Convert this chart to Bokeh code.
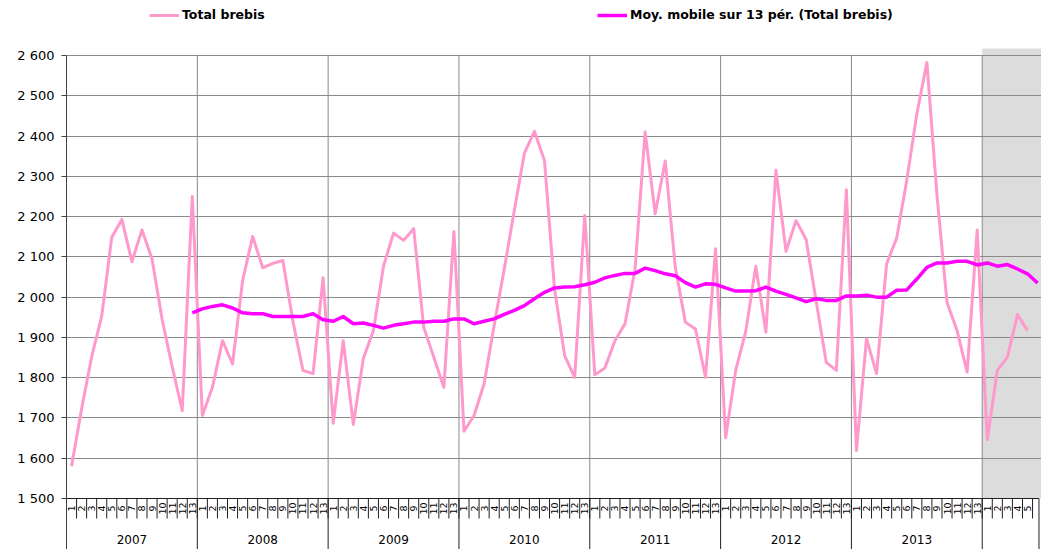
import math
import numpy as np
from bokeh.plotting import figure
from bokeh.models import Range1d, FixedTicker, Legend, LegendItem
from bokeh.core.properties import value
from bokeh.embed import file_html
from bokeh.resources import INLINE

# ---------------- data ----------------
years = ["2007", "2008", "2009", "2010", "2011", "2012", "2013", "2014"]
periods_per_year = [13, 13, 13, 13, 13, 13, 13, 6]
year_labels = ["2007", "2008", "2009", "2010", "2011", "2012", "2013", ""]
forecast_year = "2014"

total_brebis = [
    1580, 1722, 1852, 1953, 2149, 2193, 2088, 2167, 2095, 1945, 1828, 1718, 2250,
    1706, 1776, 1892, 1834, 2041, 2151, 2073, 2084, 2091, 1940, 1818, 1810, 2048,
    1687, 1892, 1684, 1848, 1917, 2077, 2159, 2141, 2170, 1925, 1851, 1776, 2163,
    1667, 1706, 1785, 1930, 2070, 2215, 2357, 2412, 2339, 2020, 1855, 1801, 2203,
    1807, 1824, 1892, 1934, 2070, 2410, 2207, 2338, 2074, 1938, 1921, 1801, 2120,
    1651, 1818, 1915, 2077, 1913, 2315, 2114, 2190, 2143, 1990, 1838, 1818, 2267,
    1619, 1897, 1810, 2083, 2147, 2290, 2455, 2583, 2254, 1987, 1917, 1814, 2167,
    1646, 1818, 1851, 1957, 1917,
]

# 13-period moving average, first value at 2007 period 13
moy_mobile_start = 12
moy_mobile = [
    1961,
    1971, 1977, 1981, 1973, 1961, 1959, 1959, 1952, 1952, 1952, 1952, 1959, 1944,
    1940, 1952, 1934, 1936, 1930, 1923, 1930, 1934, 1938, 1938, 1940, 1940, 1946,
    1946, 1934, 1940, 1946, 1957, 1967, 1979, 1996, 2012, 2023, 2025, 2026, 2031,
    2037, 2048, 2054, 2059, 2059, 2072, 2066, 2058, 2053, 2036, 2025, 2033, 2032,
    2023, 2015, 2015, 2016, 2025, 2015, 2007, 1998, 1989, 1996, 1992, 1992, 2003,
    2003, 2005, 2000, 2000, 2017, 2018, 2045, 2074, 2085, 2085, 2089, 2089, 2080,
    2085, 2077, 2081, 2070, 2058, 2035,
]

y_ticks = [1500, 1600, 1700, 1800, 1900, 2000, 2100, 2200, 2300, 2400, 2500, 2600]
y_tick_labels = ["1 500", "1 600", "1 700", "1 800", "1 900", "2 000",
                 "2 100", "2 200", "2 300", "2 400", "2 500", "2 600"]

# ---------------- derived categories ----------------
cat_period = []
cat_year = []
for yr, n in zip(years, periods_per_year):
    for k in range(1, n + 1):
        cat_year.append(yr)
        cat_period.append(str(k))
n_cat = len(cat_period)
centers = np.arange(n_cat) + 0.5
bounds = np.concatenate([[0], np.cumsum(periods_per_year)])

x_total = centers[:len(total_brebis)]
x_ma = centers[moy_mobile_start:moy_mobile_start + len(moy_mobile)]

# ---------------- geometry ----------------
W, H = 1041, 549
LEFT = 66
FRAME_W = W - LEFT
FRAME_H = H
PX_X = 10.063                      # pixels per period
x_end = FRAME_W / PX_X
y_axis_min = y_ticks[0]
ppu = 450.0 / 1117.5               # pixels per data unit (vertical)
y_bottom = y_axis_min - 51.0 / ppu
y_top_frame = y_axis_min + 498.0 / ppu
y_plot_top = y_axis_min + 450.0 / ppu

FONT = "DejaVu Sans"

p = figure(frame_width=FRAME_W, frame_height=FRAME_H,
           x_range=Range1d(0, x_end), y_range=Range1d(y_bottom, y_top_frame),
           output_backend="svg", toolbar_location=None, x_axis_location=None,
           min_border_left=LEFT, min_border_right=0, min_border_top=0, min_border_bottom=0)
p.outline_line_color = None
p.background_fill_color = "white"
p.border_fill_color = "white"

# forecast shaded area
fi = years.index(forecast_year)
p.quad(left=bounds[fi], right=x_end + 1, bottom=y_axis_min, top=y_plot_top,
       fill_color="#DCDCDC", line_color=None, level="image")

# grids
p.xgrid.visible = False
p.ygrid.ticker = FixedTicker(ticks=y_ticks[1:])
p.ygrid.grid_line_color = "#8A8A8A"
p.ygrid.grid_line_width = 1

# vertical year lines inside plot
inner_b = bounds[1:-1]
p.segment(x0=inner_b, y0=y_axis_min, x1=inner_b, y1=y_ticks[-1],
          line_color="#8A8A8A", line_width=1)

# category axis (drawn in label zone)
end_sep = x_end - 0.25
p.segment(x0=[0], y0=[y_axis_min], x1=[end_sep], y1=[y_axis_min], line_color="#202020", line_width=1)
all_b = np.arange(1, int(x_end) + 1)
p.segment(x0=all_b, y0=y_axis_min, x1=all_b, y1=y_axis_min - 20.0 / ppu,
          line_color="#202020", line_width=1)
sep_b = [b for b in bounds[1:-1]] + [end_sep]
p.segment(x0=sep_b, y0=y_axis_min, x1=sep_b, y1=y_bottom,
          line_color="#202020", line_width=1)

n_lab = len(total_brebis)
p.text(x=centers[:n_lab], y=y_axis_min - 10.0 / ppu, text=cat_period[:n_lab],
       angle=math.pi / 2, text_align="center", text_baseline="middle",
       text_font=value(FONT), text_font_size="9.5px", text_color="black")

year_centers = (bounds[:-1] + bounds[1:]) / 2.0
p.text(x=year_centers[:len(year_labels) - 1], y=y_axis_min - 41.0 / ppu,
       text=year_labels[:-1], text_align="center", text_baseline="middle",
       text_font=value(FONT), text_font_size="12px", text_color="black")

# y axis
p.yaxis.ticker = FixedTicker(ticks=y_ticks)
p.yaxis.major_label_overrides = {t: l for t, l in zip(y_ticks, y_tick_labels)}
p.yaxis.bounds = (y_bottom, y_ticks[-1])
p.yaxis.major_tick_out = 5
p.yaxis.major_tick_in = 0
p.yaxis.minor_tick_line_color = None
p.yaxis.axis_line_color = "#404040"
p.yaxis.major_tick_line_color = "#404040"
p.yaxis.major_label_standoff = 7
p.yaxis.major_label_text_font = FONT
p.yaxis.major_label_text_font_size = "13px"
p.yaxis.major_label_text_color = "black"

# series
r1 = p.line(x_total, total_brebis, line_color="#FF99CC", line_width=3, line_join="round")
r2 = p.line(x_ma, moy_mobile, line_color="#FF00FF", line_width=3.5, line_join="round")

def make_legend(label, rend, x):
    return Legend(items=[LegendItem(label=label, renderers=[rend])],
                  location=(x, FRAME_H - 22), orientation="horizontal",
                  border_line_color=None, background_fill_alpha=0,
                  padding=0, margin=0, spacing=0,
                  glyph_width=30, glyph_height=14, label_standoff=3, label_height=14,
                  label_text_font=FONT, label_text_font_style="bold",
                  label_text_font_size="12.5px", label_text_color="black")

p.add_layout(make_legend("Total brebis", r1, 149 - LEFT))
p.add_layout(make_legend("Moy. mobile sur 13 pér. (Total brebis)", r2, 597 - LEFT))

open("out.html", "w").write(file_html(p, INLINE))
